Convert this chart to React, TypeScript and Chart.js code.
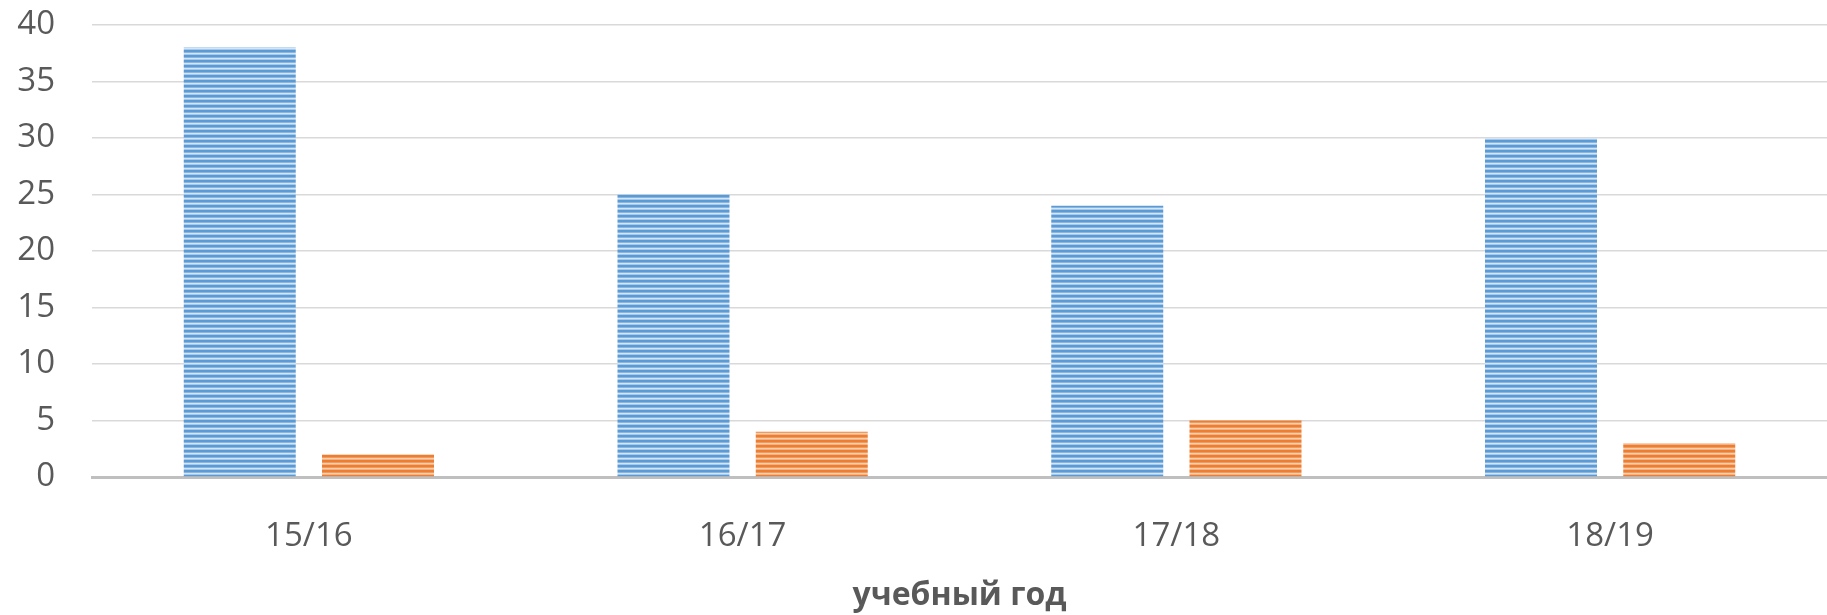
import React, { useEffect, useRef } from "react";
import { Chart, registerables } from "chart.js";

Chart.register(...registerables);

const categories = ["15/16", "16/17", "17/18", "18/19"];
const seriesA = [38, 25, 24, 30];
const seriesB = [2, 4, 5, 3];
const yTicks = [0, 5, 10, 15, 20, 25, 30, 35, 40];
const xTitle = "учебный год";

function makePattern(rows: string[]): CanvasPattern | string {
  const c = document.createElement("canvas");
  c.width = 4;
  c.height = rows.length;
  const g = c.getContext("2d");
  if (!g) return rows[0];
  rows.forEach((col, i) => {
    g.fillStyle = col;
    g.fillRect(0, i, 4, 1);
  });
  return g.createPattern(c, "repeat") || rows[0];
}

export default function App() {
  const ref = useRef<HTMLCanvasElement | null>(null);
  useEffect(() => {
    document.body.style.margin = "0";
    const canvas = ref.current;
    if (!canvas) return;
    const blue = makePattern(["#5B9BD5", "#5B9BD5", "#89B5E0", "#D4E5F5", "#A6C8EA"]);
    const orange = makePattern(["#ED7D31", "#ED7D31", "#F09A5C", "#F8CFB1", "#F4B183"]);
    const chart = new Chart(canvas, {
      type: "bar",
      data: {
        labels: categories,
        datasets: [
          { label: "A", data: seriesA, backgroundColor: blue as any, borderWidth: 0 },
          { label: "B", data: seriesB, backgroundColor: orange as any, borderWidth: 0 },
        ],
      },
      options: {
        animation: false,
        responsive: false,
        maintainAspectRatio: false,
        layout: { padding: { top: 25, right: 0, bottom: 0, left: 0 } },
        datasets: { bar: { categoryPercentage: 0.6375, barPercentage: 0.81 } },
        plugins: { legend: { display: false }, tooltip: { enabled: false } },
        scales: {
          x: {
            grid: { display: false, drawTicks: false },
            border: { display: true, color: "#BFBFBF", width: 3 },
            ticks: {
              color: "#595959",
              font: { family: "Open Sans", size: 33 },
              padding: 40,
            },
            title: {
              display: true,
              text: xTitle,
              color: "#595959",
              font: { family: "Open Sans", size: 32, weight: "bold" },
              padding: { top: 0, bottom: 0 },
            },
            afterFit: (s: any) => {
              s.height = 138;
              s.paddingLeft = 0;
              s.paddingRight = 0;
              s.paddingTop = 0;
              s.paddingBottom = 0;
            },
          },
          y: {
            min: 0,
            max: 40,
            afterBuildTicks: (s: any) => {
              s.ticks = yTicks.map((v) => ({ value: v }));
            },
            grid: { color: "#D9D9D9", lineWidth: 1.5, drawTicks: false },
            border: { display: false },
            ticks: {
              color: "#595959",
              font: { family: "Open Sans", size: 33 },
              padding: 37,
            },
            afterFit: (s: any) => {
              s.width = 92;
              s.paddingTop = 0;
              s.paddingBottom = 0;
              s.paddingLeft = 0;
              s.paddingRight = 0;
            },
          },
        },
      },
    });
    return () => chart.destroy();
  }, []);
  return (
    <div style={{ width: 1827, height: 615 }}>
      <canvas ref={ref} width={1827} height={615} style={{ display: "block" }} />
    </div>
  );
}
